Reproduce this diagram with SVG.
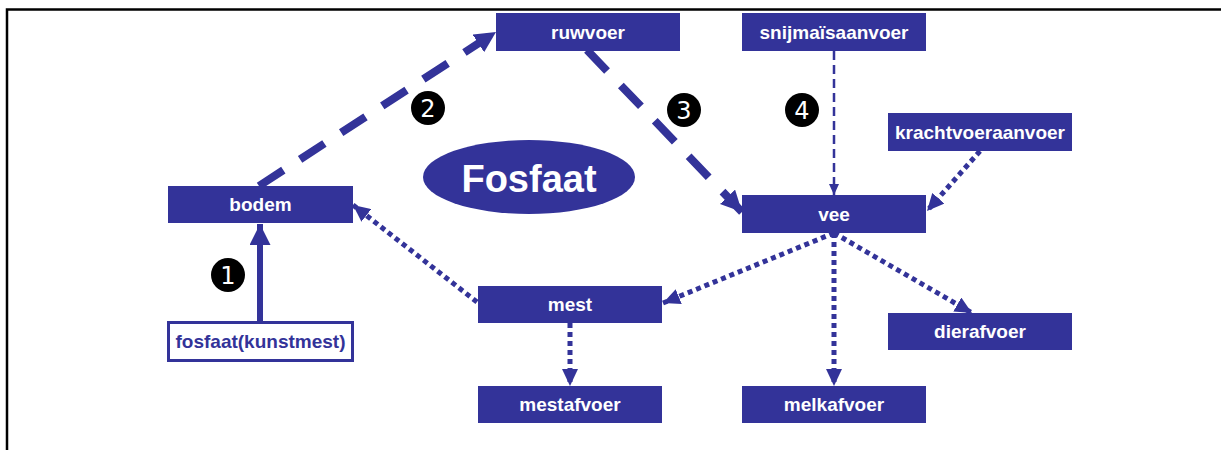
<svg xmlns="http://www.w3.org/2000/svg" width="1221" height="450" viewBox="0 0 1221 450">
<style>
.box{fill:#333399;}
.lbl{font-family:"Liberation Sans",Arial,sans-serif;font-weight:bold;font-size:19px;fill:#ffffff;text-anchor:middle;}
.num{font-family:"DejaVu Sans","Liberation Sans",sans-serif;font-size:24px;fill:#ffffff;text-anchor:middle;}
.c{fill:#333399;stroke:#333399;stroke-linecap:butt;}
.solid{stroke-width:6;fill:none;}
.dash{stroke-width:8;stroke-dasharray:29 20;fill:none;}
.thin{stroke-width:2.5;stroke-dasharray:9 5;fill:none;}
.dot{stroke-width:5;stroke-dasharray:5 4;fill:none;}
</style>
<defs>
<marker id="aBig" markerUnits="userSpaceOnUse" viewBox="0 0 21 21" markerWidth="21" markerHeight="21" refX="21" refY="10.5" orient="auto"><path d="M0,0 L21,10.5 L0,21 z" fill="#333399"/></marker>
<marker id="aDot" markerUnits="userSpaceOnUse" viewBox="0 0 17 16" markerWidth="17" markerHeight="16" refX="17" refY="8" orient="auto"><path d="M0,0 L17,8 L0,16 z" fill="#333399"/></marker>
<marker id="aThin" markerUnits="userSpaceOnUse" viewBox="0 0 11 10" markerWidth="11" markerHeight="10" refX="11" refY="5" orient="auto"><path d="M0,0 L11,5 L0,10 z" fill="#333399"/></marker>
</defs>
<rect width="1221" height="450" fill="#ffffff"/>
<g id="frame" stroke="#000000" stroke-width="2.5" fill="none">
<path d="M7,450 V9.5 H1221"/>
</g>
<g id="connectors" class="c">
<path class="solid" d="M260,321 V224" marker-end="url(#aBig)"/>
<path class="dash" d="M259,186 L496,32" marker-end="url(#aBig)"/>
<path class="dash" d="M587,50 L742,212" marker-end="url(#aBig)"/>
<path class="thin" d="M834,51 V195" marker-end="url(#aThin)"/>
<path class="dot" d="M980,151 L927,211" marker-end="url(#aDot)"/>
<path class="dot" d="M834,233 L663,303" marker-end="url(#aDot)"/>
<path class="dot" d="M834,233 V386" marker-end="url(#aDot)"/>
<path class="dot" d="M834,233 L972,313" marker-end="url(#aDot)"/>
<path class="dot" d="M477,302 L353,205" marker-end="url(#aDot)"/>
<path class="dot" d="M570,323 V386" marker-end="url(#aDot)"/>
<circle cx="834" cy="234" r="4" stroke="none"/>
</g>
<g id="n-bodem"><rect class="box" x="168" y="186" width="185" height="37"/><text class="lbl" x="260.5" y="211">bodem</text></g>
<g id="n-fosfaat-kunstmest"><rect x="168.5" y="322.5" width="184" height="38" fill="#ffffff" stroke="#333399" stroke-width="3"/><text class="lbl" x="260.5" y="348" style="fill:#333399">fosfaat(kunstmest)</text></g>
<g id="n-ruwvoer"><rect class="box" x="496" y="13" width="184" height="38"/><text class="lbl" x="588" y="39">ruwvoer</text></g>
<g id="n-snijmais"><rect class="box" x="742" y="13" width="184" height="38"/><text class="lbl" x="834" y="39">snijmaïsaanvoer</text></g>
<g id="n-krachtvoer"><rect class="box" x="888" y="113" width="184" height="38"/><text class="lbl" x="980" y="139">krachtvoeraanvoer</text></g>
<g id="n-vee"><rect class="box" x="742" y="195" width="184" height="38"/><text class="lbl" x="834" y="221">vee</text></g>
<g id="n-mest"><rect class="box" x="478" y="286" width="184" height="37"/><text class="lbl" x="570" y="311">mest</text></g>
<g id="n-mestafvoer"><rect class="box" x="478" y="386" width="184" height="37"/><text class="lbl" x="570" y="411">mestafvoer</text></g>
<g id="n-melkafvoer"><rect class="box" x="742" y="386" width="184" height="37"/><text class="lbl" x="834" y="411">melkafvoer</text></g>
<g id="n-dierafvoer"><rect class="box" x="888" y="313" width="184" height="37"/><text class="lbl" x="980" y="338">dierafvoer</text></g>
<g id="n-fosfaat"><ellipse cx="529" cy="177" rx="106" ry="37" fill="#333399"/><text x="529" y="192" style="font-family:'Liberation Sans',Arial,sans-serif;font-weight:bold;font-size:38px;fill:#ffffff;text-anchor:middle">Fosfaat</text></g>
<g id="num1"><circle cx="228" cy="275" r="17" fill="#000000"/><text class="num" x="228" y="284">1</text></g>
<g id="num2"><circle cx="428" cy="108" r="17" fill="#000000"/><text class="num" x="428" y="117">2</text></g>
<g id="num3"><circle cx="684" cy="110" r="17" fill="#000000"/><text class="num" x="684" y="119">3</text></g>
<g id="num4"><circle cx="802" cy="110" r="17" fill="#000000"/><text class="num" x="802" y="119">4</text></g>
</svg>
